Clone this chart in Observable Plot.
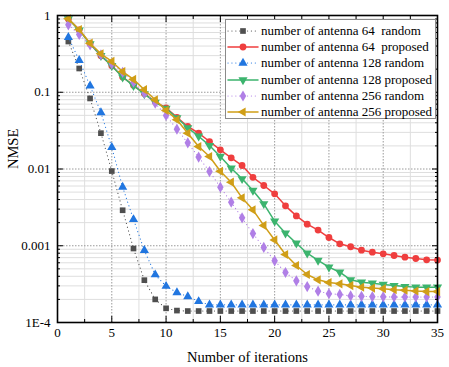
<!DOCTYPE html>
<html><head><meta charset="utf-8">
<script src="https://cdn.jsdelivr.net/npm/d3@7"></script>
<script src="https://cdn.jsdelivr.net/npm/@observablehq/plot@0.6"></script>
<style>
html,body{margin:0;padding:0;background:#fff;}
#wrap{position:relative;width:449px;height:367px;font-family:"Liberation Serif","Times New Roman",serif;}
#legend{position:absolute;left:225px;top:19px;width:211px;height:100px;border:1px solid #8a8a8a;background:#fff;box-sizing:border-box;}
.row{position:absolute;left:0;height:16px;width:209px;}
.row svg{position:absolute;left:1px;top:0;}
.row span{position:absolute;left:35px;top:0;line-height:16px;font-size:13px;white-space:pre;color:#000;}
</style></head><body><div id="wrap"></div>
<script>
const iterations = [1,2,3,4,5,6,7,8,9,10,11,12,13,14,15,16,17,18,19,20,21,22,23,24,25,26,27,28,29,30,31,32,33,34,35];

const ant64Random = [0.458,0.204,0.083,0.0293,0.0094,0.0029,0.00092,0.000356,0.0002,0.000153,0.000143,
  0.000141,0.000141,0.000141,0.000141,0.000141,0.000141,0.000141,0.000141,0.000141,0.000141,0.000141,0.000141,
  0.000141,0.000141,0.000141,0.000141,0.000141,0.000141,0.000141,0.000141,0.000141,0.000141,0.000141,0.000141];
const ant64Proposed = [0.9,0.65,0.43,0.30,0.222,0.158,0.123,0.096,0.075,0.0625,0.047,0.0358,0.0293,0.0228,0.0178,
  0.014,0.0111,0.0078,0.0061,0.00475,0.00331,0.00245,0.00191,0.0016,0.00128,0.00106,0.00097,0.000875,0.000824,
  0.000785,0.000746,0.00071,0.000682,0.000656,0.00065];
const ant128Random = [0.52,0.26,0.121,0.0545,0.0192,0.0058,0.0022,0.00087,0.00042,0.000297,0.000246,0.000218,0.000188,
  0.00017,0.00017,0.00017,0.00017,0.00017,0.00017,0.00017,0.00017,0.00017,0.00017,0.00017,0.00017,0.00017,0.00017,
  0.00017,0.00017,0.00017,0.00017,0.00017,0.00017,0.00017,0.00017];
const ant128Proposed = [0.9,0.645,0.428,0.30,0.222,0.157,0.122,0.095,0.074,0.0615,0.0465,0.0344,0.0267,0.0202,0.01455,
  0.01023,0.00745,0.00525,0.00352,0.00209,0.00146,0.00108,0.0008,0.000643,0.000526,0.000452,0.00036,0.000335,0.000325,
  0.000313,0.000303,0.000294,0.000289,0.000288,0.000288];
const ant256Random = [0.757,0.566,0.415,0.308,0.235,0.182,0.135,0.097,0.072,0.0498,0.033,0.0219,0.0143,0.00927,0.0058,
  0.00369,0.00231,0.00144,0.00095,0.000637,0.000448,0.000349,0.000294,0.000256,0.000237,0.000232,0.000222,0.000219,
  0.000217,0.000216,0.000215,0.000215,0.000215,0.000215,0.000215];
const ant256Proposed = [0.906,0.657,0.436,0.317,0.252,0.186,0.147,0.108,0.0797,0.058,0.0438,0.0293,0.0196,0.01455,0.00936,
  0.00673,0.00421,0.00294,0.00184,0.00119,0.00077,0.000553,0.000422,0.00036,0.000332,0.000319,0.000303,0.000288,0.000281,
  0.000276,0.000268,0.000263,0.000257,0.000253,0.000253];

const seriesNames = ["number of antenna 64  random","number of antenna 64  proposed","number of antenna 128 random",
  "number of antenna 128 proposed","number of antenna 256 random","number of antenna 256 proposed"];
const seriesValues = [ant64Random, ant64Proposed, ant128Random, ant128Proposed, ant256Random, ant256Proposed];
const seriesColors = ["#4f4f4f","#ef3e3e","#2176e0","#3cb46e","#b07fe6","#d09e17"];
const seriesDashed = [true,false,true,false,true,false];

const xMajor = [0,5,10,15,20,25,30,35];
const xMinor = [2.5,7.5,12.5,17.5,22.5,27.5,32.5];
const yMajor = [1e-4,1e-3,1e-2,1e-1,1];
const yLabels = ["1E-4","0.001","0.01","0.1","1"];
const yMinor = yMajor.slice(0,4).flatMap(d => [2,3,4,5,6,7,8,9].map(m => m*d));

const s3 = Math.sqrt(3);
const triDown = {draw(ctx, size){ const y = -Math.sqrt(size/(s3*3)); ctx.moveTo(0,-2*y); ctx.lineTo(-s3*y,y); ctx.lineTo(s3*y,y); ctx.closePath(); }};
const triLeft = {draw(ctx, size){ const y = -Math.sqrt(size/(s3*3)); ctx.moveTo(2*y,0); ctx.lineTo(-y,-s3*y); ctx.lineTo(-y,s3*y); ctx.closePath(); }};
const seriesSymbols = [d3.symbolSquare, d3.symbolCircle, d3.symbolTriangle, triDown, d3.symbolDiamond, triLeft];
const seriesR = [3.2, 3.4, 3.4, 3.4, 3.4, 3.4];
const dotDash = "0.1,3.8";

const marks = [
  Plot.gridY(yMinor, {stroke:"#dedede", strokeOpacity:1}),
  Plot.gridX(xMinor, {stroke:"#dedede", strokeOpacity:1}),
  Plot.gridY(yMajor, {stroke:"#9a9a9a", strokeOpacity:1, strokeDasharray:"1.5,1.5"}),
  Plot.gridX(xMajor, {stroke:"#9a9a9a", strokeOpacity:1, strokeDasharray:"1.5,1.5"})
];
seriesValues.forEach((vals, k) => {
  const rows = iterations.map((it, i) => ({it, v: vals[i]}));
  marks.push(Plot.line(rows, {x:"it", y:"v", stroke: seriesColors[k],
    strokeWidth: seriesDashed[k] ? 1.15 : 1.5,
    strokeDasharray: seriesDashed[k] ? dotDash : null, strokeLinecap: "round"}));
  marks.push(Plot.dot(rows, {x:"it", y:"v", fill: seriesColors[k], symbol: seriesSymbols[k], r: seriesR[k]}));
});
marks.push(
  Plot.frame({stroke:"#000", strokeWidth:1.6}),
  Plot.axisY(yMajor, {anchor:"left", tickSize:-6, tickFormat:() => "", label:null}),
  Plot.axisY(yMinor, {anchor:"left", tickSize:-3, tickFormat:() => "", label:null}),
  Plot.axisY(yMajor, {anchor:"right", tickSize:-6, tickFormat:() => "", label:null}),
  Plot.axisY(yMinor, {anchor:"right", tickSize:-3, tickFormat:() => "", label:null}),
  Plot.axisX(xMajor, {anchor:"bottom", tickSize:-6, tickFormat:() => "", label:null}),
  Plot.axisX(xMinor, {anchor:"bottom", tickSize:-3, tickFormat:() => "", label:null}),
  Plot.axisX(xMajor, {anchor:"top", tickSize:-6, tickFormat:() => "", label:null}),
  Plot.axisX(xMinor, {anchor:"top", tickSize:-3, tickFormat:() => "", label:null}),
  Plot.axisY(yMajor, {anchor:"left", tickSize:0, tickPadding:7, tickFormat:d => yLabels[yMajor.indexOf(d)], label:null, fontSize:13}),
  Plot.axisX(xMajor, {anchor:"bottom", tickSize:0, tickPadding:5, label:null, fontSize:13}),
  Plot.text(["NMSE"], {text: d => d, frameAnchor:"left", rotate:-90, dx:-44, fontSize:14.5}),
  Plot.text(["Number of iterations"], {text: d => d, frameAnchor:"bottom", dy:39, fontSize:14.5})
);

const chart = Plot.plot({
  width:449, height:367, marginLeft:57, marginRight:12, marginTop:15, marginBottom:45,
  style:{fontFamily:'"Liberation Serif","Times New Roman",serif', fontSize:"13px", background:"#fff", color:"#000", overflow:"visible"},
  x:{domain:[0,35]},
  y:{type:"log", domain:[1e-4,1]},
  marks
});
const wrap = document.getElementById("wrap");
wrap.appendChild(chart);

// legend
const legend = document.createElement("div");
legend.id = "legend";
wrap.appendChild(legend);
seriesNames.forEach((name, k) => {
  const row = document.createElement("div");
  row.className = "row";
  row.style.top = (3 + k*16.2) + "px";
  const svg = d3.create("svg").attr("width",32).attr("height",16);
  svg.append("line").attr("x1",1).attr("x2",31).attr("y1",8).attr("y2",8)
    .attr("stroke",seriesColors[k]).attr("stroke-width", seriesDashed[k] ? 1.15 : 1.5)
    .attr("stroke-linecap","round").attr("stroke-dasharray", seriesDashed[k] ? dotDash : null);
  const sz = Math.PI*seriesR[k]*seriesR[k];
  svg.append("path").attr("transform","translate(16,8)").attr("fill",seriesColors[k])
    .attr("d", d3.symbol(seriesSymbols[k], sz)());
  row.appendChild(svg.node());
  const span = document.createElement("span");
  span.textContent = name;
  row.appendChild(span);
  legend.appendChild(row);
});
</script></body></html>
